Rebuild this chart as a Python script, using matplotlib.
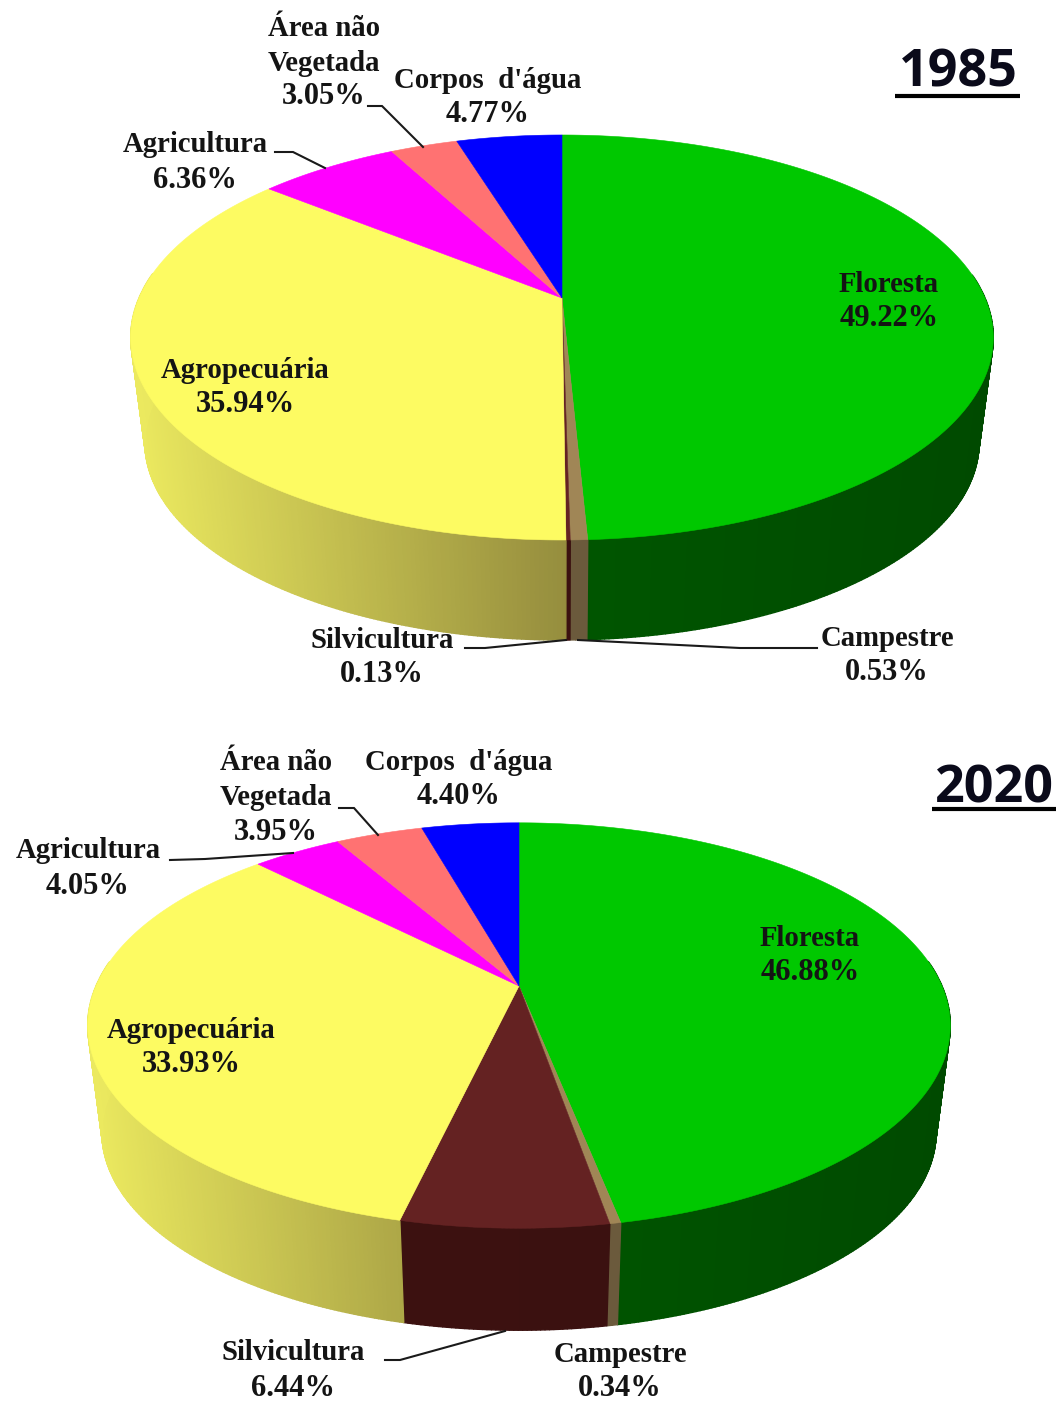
import numpy as np
import matplotlib
matplotlib.use("Agg")
import matplotlib.pyplot as plt
from matplotlib.collections import PolyCollection
from matplotlib.colors import to_rgb
from matplotlib.patches import Polygon

# Land cover shares (%) for each year, clockwise from 12 o'clock
categories = ["Floresta", "Campestre", "Silvicultura", "Agropecuária",
              "Agricultura", "Área não\nVegetada", "Corpos  d'água"]
values_1985 = [49.22, 0.53, 0.13, 35.94, 6.36, 3.05, 4.77]
values_2020 = [46.88, 0.34, 6.44, 33.93, 4.05, 3.95, 4.40]

top_colors = ["#00c800", "#a08656", "#642222", "#fdfb62", "#ff00ff", "#ff7272", "#0000ff"]
side_left = ["#006200", "#6b5a3c", "#3d1210", "#ebe95f", "#b000b0", "#b05050", "#0000a0"]
side_right = ["#004a00", "#6b5a3c", "#3a1010", "#41331d", "#b000b0", "#b05050", "#0000a0"]

# Pixel layout of each pie: apex, half-width factor, depth factor, rim offset
LAYOUT_1985 = dict(cx=562, cy=298, a=423, b=194.8, bottom_gap=100)
LAYOUT_2020 = dict(cx=519, cy=986, a=423, b=195.0, bottom_gap=102)
PERSPECTIVE = 0.195
RIM_SCALE_X = 0.967
RIM_SCALE_Y = 0.975

# Label centres in pixels: (x, name line, value line)
labels_1985 = [(889, 284, 318), (887, 638, 672), (382, 640, 674), (245, 370, 404),
               (195, 145, 180), (324, 29, 97), (488, 80, 114)]
labels_2020 = [(810, 938, 972), (620, 1354, 1388), (293, 1353, 1388), (191, 1031, 1065),
               (88, 851, 886), (276, 763, 832), (459, 763, 797)]

leaders_1985 = [[(275, 152), (293, 152), (325, 168)],
                [(368, 106), (382, 106), (423, 147)],
                [(465, 648), (485, 648), (566, 640)],
                [(817, 648), (740, 648), (578, 640)]]
leaders_2020 = [[(170, 860), (205, 859), (293, 853)],
                [(339, 808), (354, 808), (378, 835)],
                [(385, 1360), (400, 1360), (505, 1331)]]


def project(theta, layout, rim=False):
    """Map clockwise angles from 12 o'clock to pixels on the perspective disc."""
    u, v = np.sin(theta), np.cos(theta)
    s = 1.0 / (1.0 + PERSPECTIVE * v)
    a, b, cy = layout["a"], layout["b"], layout["cy"]
    if rim:
        a, b = a * RIM_SCALE_X, b * RIM_SCALE_Y
        cy = cy + layout["b"] / (1 - PERSPECTIVE) + layout["bottom_gap"] - b / (1 - PERSPECTIVE)
    return layout["cx"] + a * u * s, cy - b * v * s


def draw_pie(ax, values, layout):
    edges = np.cumsum([0.0] + list(values)) / np.sum(values) * 2 * np.pi
    half_width = layout["a"] / np.sqrt(1 - PERSPECTIVE ** 2)

    # Side wall first, split into narrow quads for the horizontal shading
    for i in range(len(values)):
        n = max(2, int((edges[i + 1] - edges[i]) / np.radians(0.5)))
        th = np.linspace(edges[i], edges[i + 1], n + 1)
        x0, y0 = project(th, layout)
        x1, y1 = project(th, layout, rim=True)
        quads, shades = [], []
        left, right = np.array(to_rgb(side_left[i])), np.array(to_rgb(side_right[i]))
        for j in range(n):
            if np.cos(th[j]) > 0.12 and np.cos(th[j + 1]) > 0.12:
                continue
            quads.append([(x0[j], y0[j]), (x0[j + 1], y0[j + 1]),
                          (x1[j + 1], y1[j + 1]), (x1[j], y1[j])])
            t = np.clip(((x0[j] + x0[j + 1]) / 2 - layout["cx"]) / half_width, -1, 1)
            shades.append(left + (right - left) * (t + 1) / 2)
        if quads:
            ax.add_collection(PolyCollection(quads, facecolors=shades, edgecolors=shades,
                                             linewidths=1.0, zorder=1))

    # Top face
    for i in range(len(values)):
        n = max(2, int((edges[i + 1] - edges[i]) / np.radians(0.25)))
        th = np.linspace(edges[i], edges[i + 1], n + 1)
        x, y = project(th, layout)
        pts = np.column_stack([np.r_[layout["cx"], x], np.r_[layout["cy"], y]])
        ax.add_patch(Polygon(pts, closed=True, facecolor=top_colors[i],
                             edgecolor=top_colors[i], linewidth=0.4, zorder=2))


def draw_labels(ax, values, positions):
    for name, value, (x, y_name, y_value) in zip(categories, values, positions):
        for k, line in enumerate(name.split("\n")):
            ax.text(x, y_name + 34.5 * k, line, ha="center", va="center", fontsize=20.7, **TEXT)
        ax.text(x, y_value, f"{value:.2f}%", ha="center", va="center", fontsize=22, **TEXT)


TEXT = dict(family="Liberation Serif", weight="bold", color="#141414", zorder=4)

fig = plt.figure(figsize=(10.63, 14.01), dpi=100, facecolor="white")
ax = fig.add_axes([0, 0, 1, 1])
ax.set_xlim(0, 1063)
ax.set_ylim(1401, 0)
ax.axis("off")

draw_pie(ax, values_1985, LAYOUT_1985)
draw_pie(ax, values_2020, LAYOUT_2020)
draw_labels(ax, values_1985, labels_1985)
draw_labels(ax, values_2020, labels_2020)

for path in leaders_1985 + leaders_2020:
    xs, ys = zip(*path)
    ax.plot(xs, ys, color="#1a1a1a", lw=1.5, solid_joinstyle="miter", zorder=3)

# Year headings with their rules
for year, x, y, x0, x1, y_rule in [("1985", 958, 73, 895, 1020, 96), ("2020", 994, 789, 932, 1056, 809)]:
    ax.text(x, y, year, family="Open Sans", weight="bold", fontsize=37.5, color="#0a0a1a",
            ha="center", va="center", zorder=4)
    ax.plot([x0, x1], [y_rule, y_rule], color="black", lw=3.0, solid_capstyle="butt", zorder=4)

fig.savefig("out.png", dpi=100, facecolor="white")
